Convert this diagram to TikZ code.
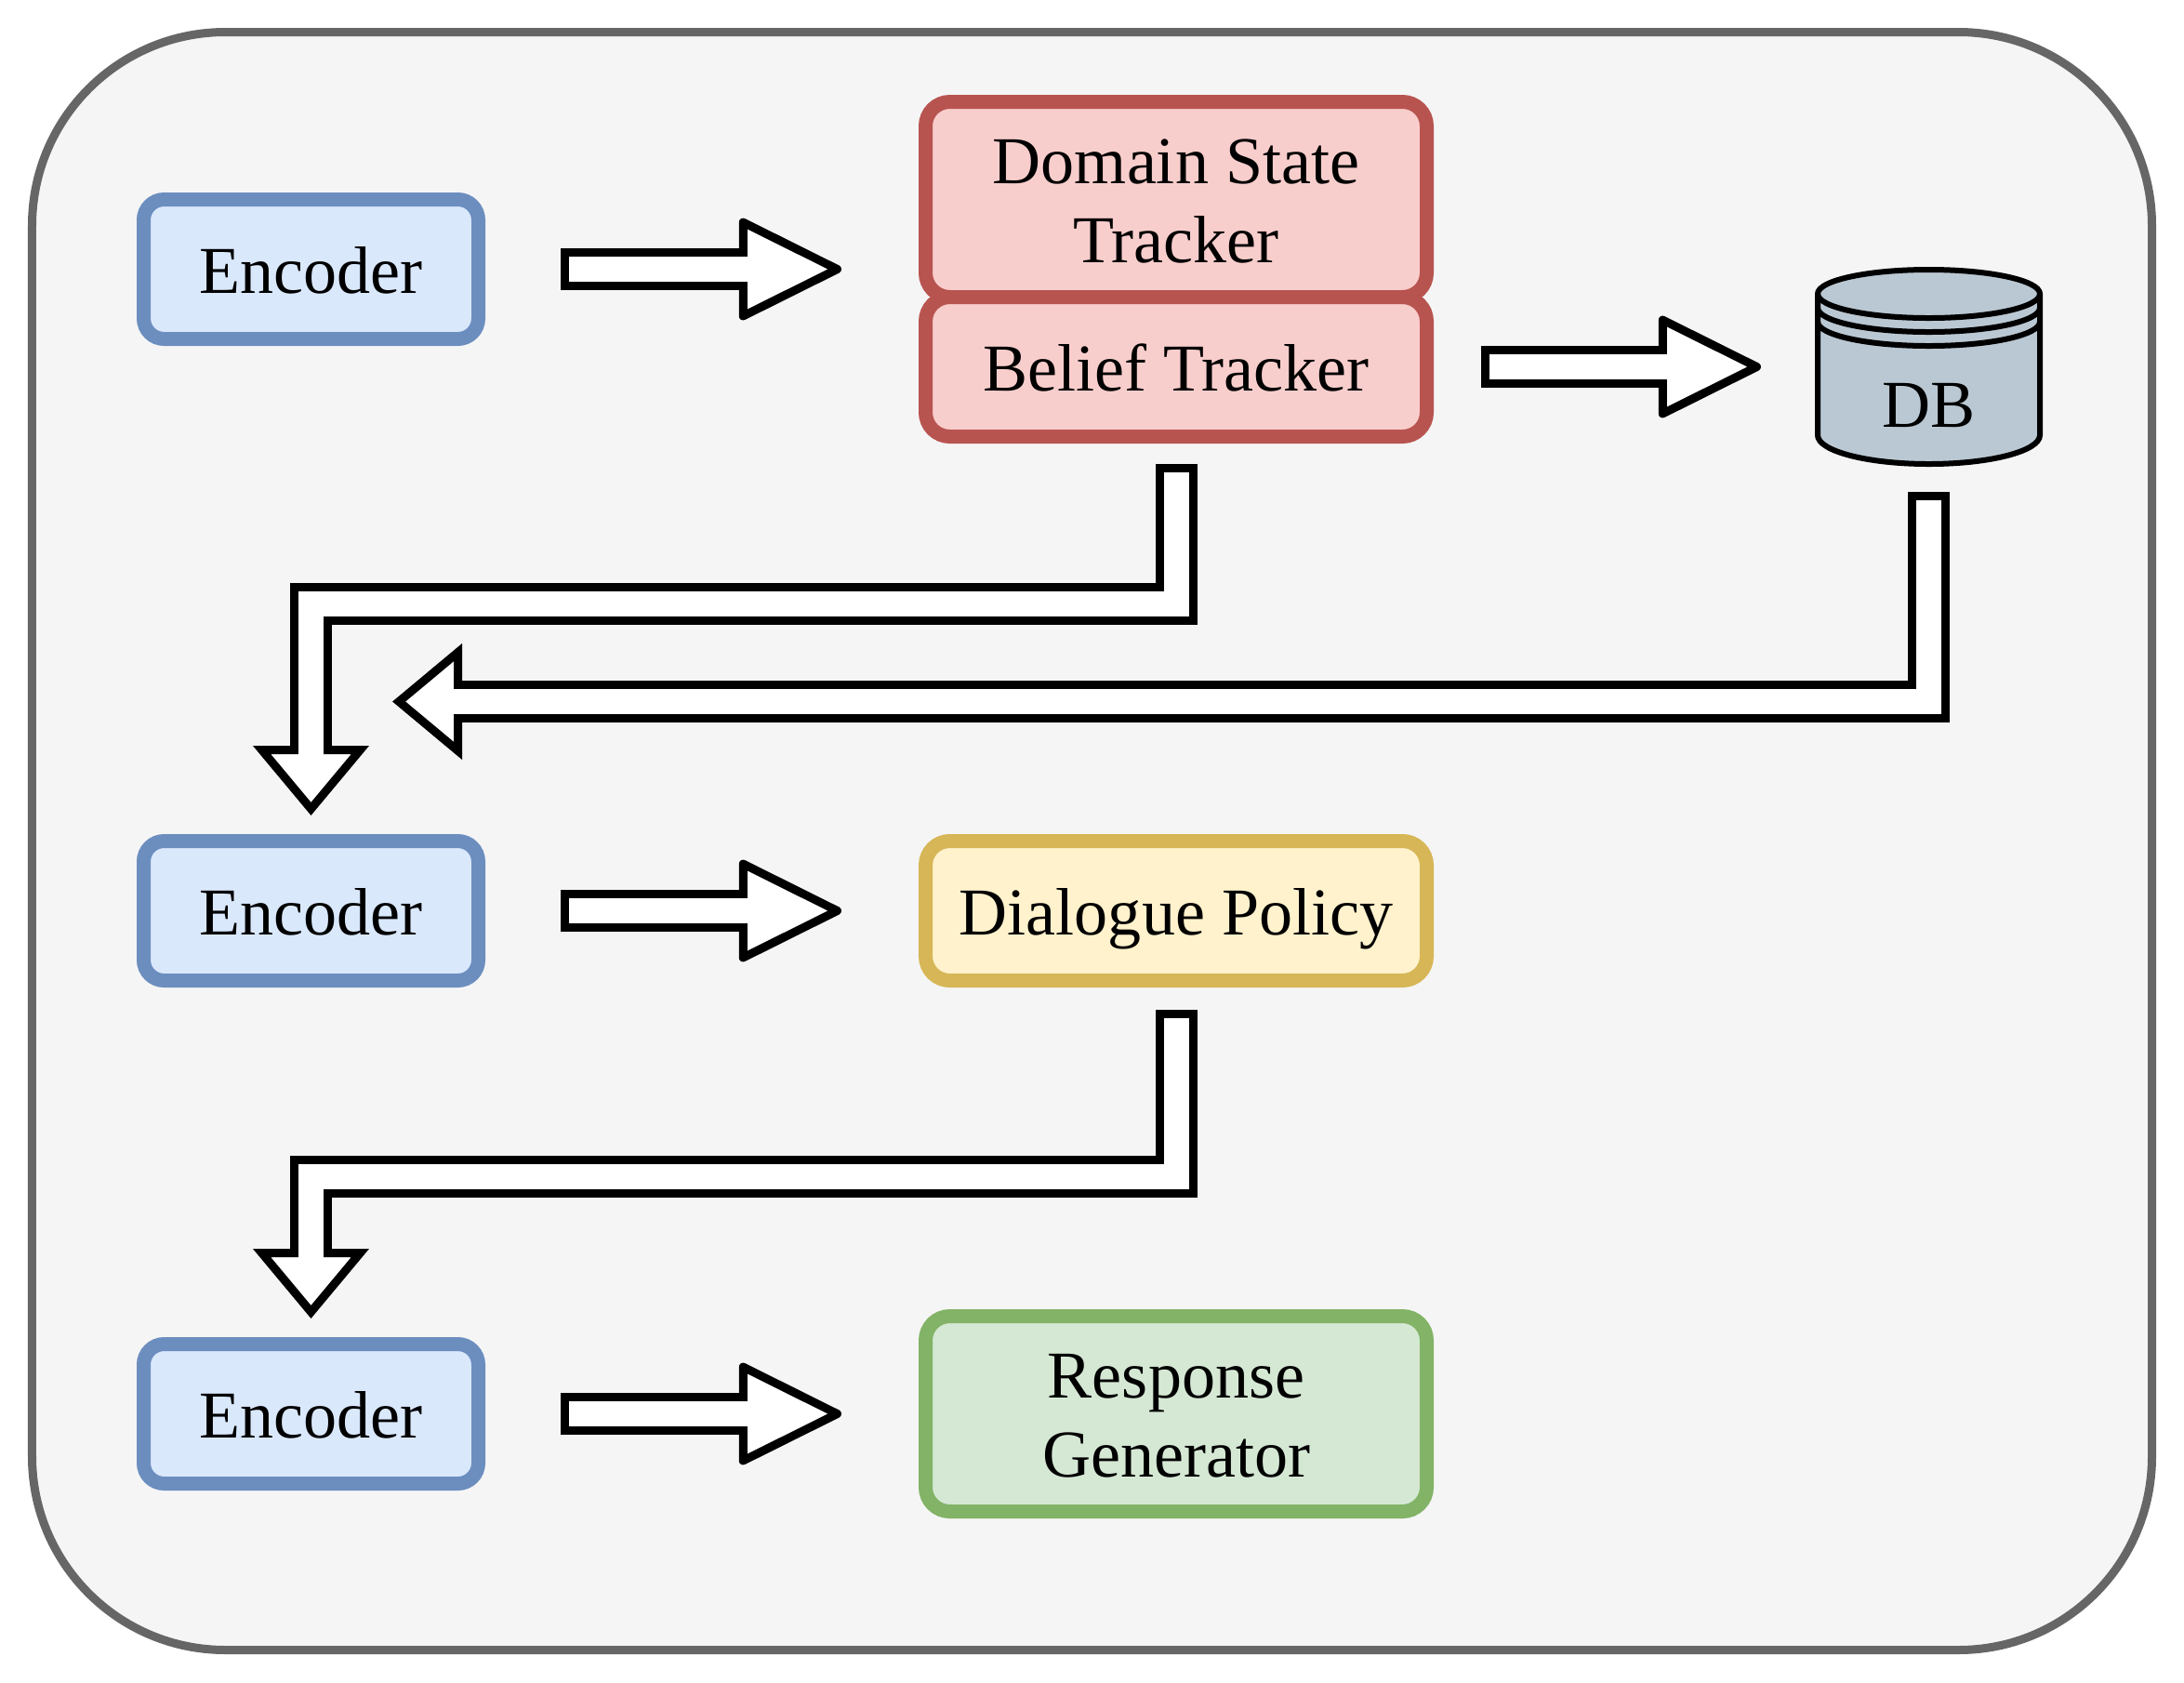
\documentclass[tikz,border=0pt]{standalone}
\usepackage{fontspec}
\setmainfont{Liberation Serif}
\usepackage{xcolor}
\usetikzlibrary{arrows.meta,positioning,calc}

\definecolor{panelfill}{HTML}{F5F5F5}
\definecolor{paneldraw}{HTML}{666666}
\definecolor{dbfill}{HTML}{BAC8D3}
\definecolor{encdraw}{HTML}{6C8EBF}
\definecolor{encfill}{HTML}{DAE8FC}
\definecolor{trackdraw}{HTML}{B85450}
\definecolor{trackfill}{HTML}{F8CECC}
\definecolor{policydraw}{HTML}{D6B656}
\definecolor{policyfill}{HTML}{FFF2CC}
\definecolor{gendraw}{HTML}{82B366}
\definecolor{genfill}{HTML}{D5E8D4}

\newcommand{\flowarrow}[5][elbowtip]{%
  \draw[flowline,#1,shorten <=#2mm,shorten >=#3mm] #5;
  \draw[flowcore,shorten <=#2mm+.9mm,shorten >=#3mm+#4mm] #5;
}

\begin{document}
\begin{tikzpicture}[
  font=\fontsize{20.5pt}{24pt}\selectfont,
  oneline/.style={text height=5.1mm,text depth=0pt},
  twoline/.style={text height=13.5mm,text depth=0pt},
  panel/.style={rectangle,rounded corners=20.8mm,draw=paneldraw,fill=panelfill,line width=.9mm,minimum width=228mm,minimum height=174mm},
  encoder/.style={rectangle,rounded corners=2.2mm,draw=encdraw,fill=encfill,line width=1.5mm,align=center,oneline,minimum width=36mm,minimum height=15mm},
  tracker/.style={rectangle,rounded corners=2.6mm,draw=trackdraw,fill=trackfill,line width=1.5mm,align=center,oneline,minimum width=53.9mm},
  policy/.style={tracker,draw=policydraw,fill=policyfill,minimum height=15mm},
  generator/.style={tracker,draw=gendraw,fill=genfill,twoline,minimum height=21mm},
  dbline/.style={draw=black,line width=.6mm},
  flowline/.style={draw=black,line width=4.5mm},
  flowcore/.style={draw=white,line width=2.7mm},
  elbowtip/.style={-{Triangle[length=7.5mm,width=12.3mm,line width=.9mm,fill=white]}},
  flattip/.style={-{Triangle[round,length=11.6mm,width=11.3mm,line width=.9mm,fill=white]}}
]
\useasboundingbox (0,0) rectangle (23.49,-18.09);
\node[panel] (panel) at (11.745,-9.045) {};

\node[encoder] (enc1) at (3.345,-2.895) {Encoder};
\node[encoder,below=52.5mm of enc1] (enc2) {Encoder};
\node[encoder,below=37.6mm of enc2] (enc3) {Encoder};

\node[tracker,twoline,minimum height=21mm,right=46.6mm of enc1,yshift=7.5mm] (domain) {Domain State\\Tracker};
\node[tracker,minimum height=15mm,below=-1.5mm of domain] (belief) {Belief Tracker};
\node[policy,right=46.6mm of enc2] (policy) {Dialogue Policy};
\node[generator,right=46.6mm of enc3] (response) {Response\\Generator};

% cylinder for the database
\node[inner sep=0pt,outer sep=0pt,minimum width=23.9mm,minimum height=20.9mm,right=41.3mm of belief] (db) {};
\coordinate (dbl) at ([yshift=-2.6mm]db.north west);
\draw[dbline,fill=dbfill] (dbl) arc[start angle=180,end angle=0,x radius=11.95mm,y radius=2.6mm]
  -- ++(0,-15.2mm) arc[start angle=0,end angle=-180,x radius=11.95mm,y radius=3.1mm] -- cycle;
\foreach \dip in {0,1.5,3}
  \draw[dbline] ([yshift=-\dip mm]dbl) arc[start angle=180,end angle=360,x radius=11.95mm,y radius=2.6mm];
\node[inner sep=0pt] (dblabel) at ([yshift=-4.2mm]db.center) {DB};
\coordinate (dbgoal) at (4.22,-7.545);

\flowarrow[flattip]{8.1}{8.3}{9.9}{(enc1.east) -- (enc1.east -| domain.west)}
\flowarrow[flattip]{8.1}{8.3}{9.9}{(enc2.east) -- (policy.west)}
\flowarrow[flattip]{8.1}{8.3}{9.9}{(enc3.east) -- (response.west)}
\flowarrow[flattip]{5.1}{6.1}{9.9}{(belief.east) -- (db.west)}
\flowarrow{2.2}{2}{6.4}{(belief.south) -- ++(0,-1.725) -| (enc2.north)}
\flowarrow{2.4}{2}{6.4}{(policy.south) -- ++(0,-2.03) -| (enc3.north)}
\flowarrow{3}{0}{6.4}{(db.south) |- (dbgoal)}
\end{tikzpicture}
\end{document}
